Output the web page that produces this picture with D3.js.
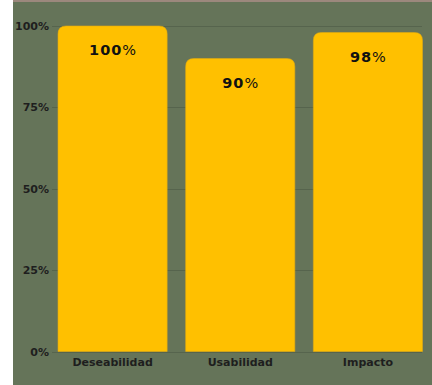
<!DOCTYPE html>
<html><head><meta charset="utf-8">
<script src="https://cdn.jsdelivr.net/npm/d3@7"></script>
<style>html,body{margin:0;padding:0;background:#fff;}svg{display:block;}</style>
</head><body>
<svg id="c" width="432" height="385"></svg>
<script>
const categories = ["Deseabilidad", "Usabilidad", "Impacto"];
const values = [100, 90, 98];
const tickValues = [0, 25, 50, 75, 100];
const tickLabels = ["0%", "25%", "50%", "75%", "100%"];

const svg = d3.select("#c");
svg.append("rect").attr("x", 13).attr("y", 0).attr("width", 419).attr("height", 385).attr("fill", "#657459");
svg.append("rect").attr("x", 13).attr("y", 0).attr("width", 419).attr("height", 2).attr("fill", "#9c887d");

const x = d3.scaleBand().domain(categories).range([58, 422.5]).paddingInner(0.145).paddingOuter(0);
const y = d3.scaleLinear().domain([0, 100]).range([351.5, 26]);

// gridlines
svg.append("g").selectAll("line").data(tickValues).join("line")
  .attr("x1", 52).attr("x2", 422).attr("y1", d => Math.round(y(d)) + 0.5).attr("y2", d => Math.round(y(d)) + 0.5)
  .attr("stroke", "#56644d").attr("stroke-width", 1);

// y axis
const yAxis = d3.axisLeft(y).tickValues(tickValues).tickFormat((d, i) => tickLabels[i]).tickSize(0).tickPadding(0);
const ya = svg.append("g").attr("transform", "translate(49,0)").call(yAxis);
ya.select(".domain").remove();
ya.selectAll("text").attr("font-family", "'DejaVu Sans', sans-serif").attr("font-weight", "bold")
  .attr("font-size", 11).attr("fill", "#1e1e1e");

const r = 8;
function barPath(x0, w, top, bottom) {
  return `M${x0},${bottom}V${top + r}Q${x0},${top} ${x0 + r},${top}H${x0 + w - r}Q${x0 + w},${top} ${x0 + w},${top + r}V${bottom}Z`;
}
svg.append("g").selectAll("path").data(values).join("path")
  .attr("d", (d, i) => barPath(x(categories[i]), x.bandwidth(), y(d), y(0)))
  .attr("fill", "#ffc000").attr("stroke", "#e0aa10").attr("stroke-width", 0.6);

// value labels
const lab = svg.append("g").selectAll("text").data(values).join("text")
  .attr("x", (d, i) => x(categories[i]) + x.bandwidth() / 2)
  .attr("y", d => y(d) + 29)
  .attr("text-anchor", "middle")
  .attr("font-family", "'DejaVu Sans', sans-serif").attr("font-size", 14.5).attr("fill", "#111");
lab.append("tspan").attr("font-weight", "bold").attr("letter-spacing", 1).text(d => d);
lab.append("tspan").attr("font-weight", "normal").text("%");

// x axis
const xAxis = d3.axisBottom(x).tickSize(0).tickPadding(0);
const xa = svg.append("g").attr("transform", "translate(0,358)").call(xAxis);
xa.select(".domain").remove();
xa.selectAll("text").attr("font-family", "'DejaVu Sans', sans-serif").attr("font-weight", "bold")
  .attr("font-size", 11).attr("fill", "#1e1e1e");
</script>
</body></html>
